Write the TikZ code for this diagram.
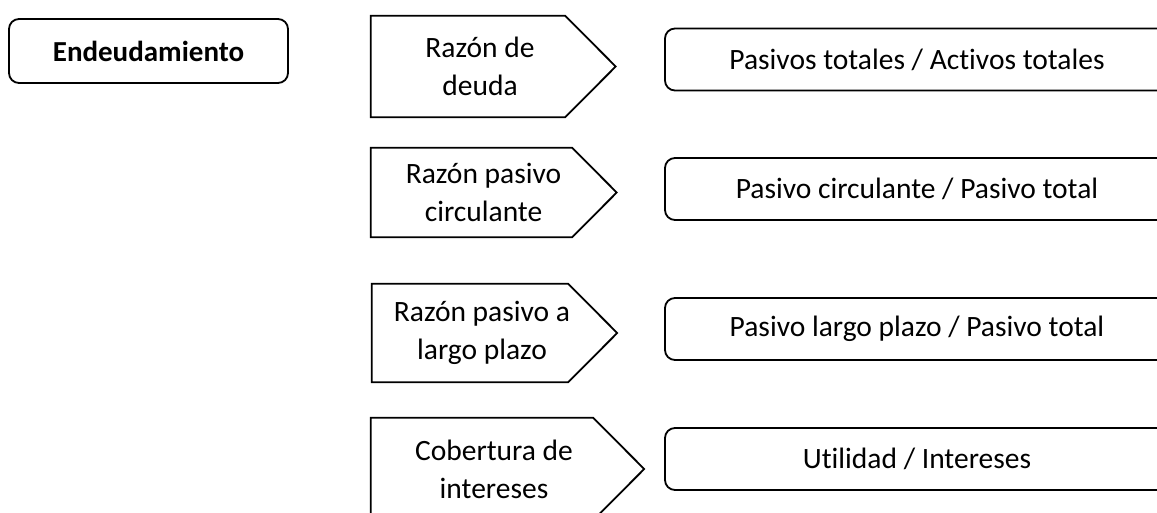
\documentclass[tikz,border=0pt]{standalone}
\usepackage{fontspec}
\setmainfont{Carlito}[Ligatures=NoCommon]
\usetikzlibrary{calc}

\tikzset{
  outline/.style={line width=1.8pt, line join=miter},
  card/.style={draw, outline, rounded corners=10pt, minimum width=504pt, minimum height=62pt, inner sep=0pt,
    font=\fontsize{29.5}{38}\selectfont},
  ratiobox/.style={minimum width=#1, inner sep=0pt, align=center, font=\fontsize{29.5}{38}\selectfont},
}

\begin{document}
\begin{tikzpicture}[x=1pt, y=-1pt]
  \useasboundingbox (0,0) rectangle (1157,512);
  \clip (0,0) rectangle (1157,512);

  % group title
  \node (head) [card, minimum width=279pt, minimum height=64pt, font=\fontsize{29}{38}\selectfont\bfseries] at (148.5,51) {Endeudamiento};

  % ratio names
  \node (r1) [ratiobox=218pt, minimum height=101pt] at (480,66.5) {Razón de\\deuda};
  \node (r2) [ratiobox=225pt, minimum height=89pt] at (483.5,192.5) {Razón pasivo\\circulante};
  \node (r3) [ratiobox=220pt, minimum height=98pt] at (482,333) {Razón pasivo a\\largo plazo};
  \node (r4) [ratiobox=246pt, minimum height=102pt] at (494,469) {Cobertura de\\intereses};

  \foreach \n/\t in {r1/26.5, r2/20.5, r3/25, r4/27}
    \draw[outline] (\n.north west) -- ([xshift=-24pt]\n.north east) -- ([xshift=\t pt]\n.east)
      -- ([xshift=-24pt]\n.south east) -- (\n.south west) -- cycle;

  % formulas
  \node (f1) [card] at (917,59.5) {Pasivos totales / Activos totales};
  \node (f2) [card] at (917,189) {Pasivo circulante / Pasivo total};
  \node (f3) [card] at (917,329) {Pasivo largo plazo / Pasivo total};
  \node (f4) [card] at (917,459) {Utilidad / Intereses};
\end{tikzpicture}
\end{document}
